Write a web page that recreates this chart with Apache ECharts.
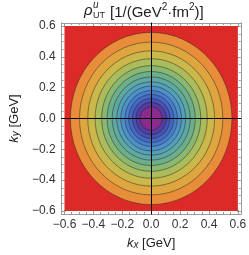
<!DOCTYPE html>
<html><head><meta charset="utf-8">
<script src="https://cdn.jsdelivr.net/npm/echarts@6/dist/echarts.min.js"></script>
<style>html,body{margin:0;padding:0;background:#fff}#c{width:249px;height:255px}</style>
</head><body><div id="c"></div>
<script>
// ---- data ----
const axisMin = -0.62, axisMax = 0.62;
const majorTicks = [-0.6, -0.4, -0.2, 0.0, 0.2, 0.4, 0.6];
const minorTicks = [-0.55,-0.5,-0.45,-0.35,-0.3,-0.25,-0.15,-0.1,-0.05,0.05,0.1,0.15,0.25,0.3,0.35,0.45,0.5,0.55];
const domainSquare = [[-0.6, -0.6, 0.6, 0.6]];          // plotted region (red background)
const contourCenter = [0, 0];
// contour radii in GeV, outermost first
const contourRadii = [0.559, 0.496, 0.439, 0.388, 0.343, 0.305, 0.270, 0.238, 0.210, 0.181, 0.156, 0.130, 0.105, 0.076];
// ---- styles ----
const outsideColor = '#DC2A29';
const bandColors = ['#E88E3B','#DFA640','#CBB84B','#ABBC5C','#88B872','#6CB08B','#5EA9A3','#54A0BA','#4C92C8','#477ECB','#4568C3','#4553B5','#553CA1','#8A2C8E'];

const chart = echarts.init(document.getElementById('c'), null, {renderer: 'canvas'});
const fmt = v => (v < 0 ? '\u2212' : '') + Math.abs(v).toFixed(1);
const frameColor = '#9a9a9a';
const base = {
  type: 'value', min: axisMin, max: axisMax, splitLine: {show: false},
  axisLine: {show: true, onZero: false, lineStyle: {color: frameColor, width: 1}},
};
function xAx(pos, ticks, len, labels, extra) {
  return Object.assign({}, base, {
    position: pos,
    axisTick: {show: true, inside: true, length: len, customValues: ticks, lineStyle: {color: frameColor}},
    axisLabel: labels ? {show: true, customValues: majorTicks, formatter: fmt, color: '#333', fontSize: 12, fontFamily: 'Liberation Sans', margin: 5} : {show: false}
  }, extra || {});
}
function yAx(pos, ticks, len, labels, extra) {
  return Object.assign({}, base, {
    position: pos,
    axisTick: {show: true, inside: true, length: len, customValues: ticks, lineStyle: {color: frameColor}},
    axisLabel: labels ? {show: true, customValues: majorTicks, formatter: fmt, color: '#333', fontSize: 12, fontFamily: 'Liberation Sans', margin: 6} : {show: false}
  }, extra || {});
}
const nameStyle = () => ({
  color: '#222', fontFamily: 'Liberation Sans',
  rich: {
    i: {fontSize: 13, fontStyle: 'italic', fontFamily: 'Liberation Sans', color: '#222', verticalAlign: 'bottom', lineHeight: 16},
    b: {fontSize: 10, fontStyle: 'italic', fontFamily: 'Liberation Sans', color: '#222', verticalAlign: 'bottom', lineHeight: 12},
    n: {fontSize: 13, fontFamily: 'Liberation Sans', color: '#222', verticalAlign: 'bottom', lineHeight: 16}
  }
});
const crossLine = {show: true, onZero: true, onZeroAxisIndex: 0, lineStyle: {color: '#000', width: 1}};

const option = {
  animation: false,
  grid: {left: 48, right: 6, top: 23, bottom: 39, containLabel: false},
  xAxis: [
    xAx('bottom', majorTicks, 4, true, {name: '{i|k}{b|x}{n| [GeV]}', nameLocation: 'middle', nameGap: 20, nameTextStyle: nameStyle()}),
    xAx('top', majorTicks, 4, false),
    xAx('bottom', minorTicks, 2, false),
    xAx('top', minorTicks, 2, false),
    Object.assign({}, base, {position: 'bottom', z: 10, axisLine: crossLine, axisTick: {show: false}, axisLabel: {show: false}})
  ],
  yAxis: [
    yAx('left', majorTicks, 4, true, {name: '{i|k}{b|y}{n| [GeV]}', nameLocation: 'middle', nameGap: 27, nameTextStyle: nameStyle()}),
    yAx('right', majorTicks, 4, false),
    yAx('left', minorTicks, 2, false),
    yAx('right', minorTicks, 2, false),
    Object.assign({}, base, {position: 'left', z: 10, axisLine: crossLine, axisTick: {show: false}, axisLabel: {show: false}})
  ],
  graphic: [
    {type: 'text', x: 84, y: 3, style: {text: 'ρ', font: 'italic 15px Liberation Sans', fill: '#222'}},
    {type: 'text', x: 93, y: 0, style: {text: 'u', font: 'italic 10px Liberation Sans', fill: '#222'}},
    {type: 'text', x: 93, y: 11, style: {text: 'UT', font: '9px Liberation Sans', fill: '#222'}},
    {type: 'text', x: 110, y: 2, style: {
      text: '{n|[1/(GeV}{s|2}{n|·fm}{s|2}{n|)]}',
      rich: {
        n: {fontSize: 15, fontFamily: 'Liberation Sans', fill: '#222', verticalAlign: 'bottom', lineHeight: 18},
        s: {fontSize: 10, fontFamily: 'Liberation Sans', fill: '#222', verticalAlign: 'top', lineHeight: 11}
      }
    }}
  ],
  series: [
    {
      type: 'custom', xAxisIndex: 0, yAxisIndex: 0, clip: true, z: 2,
      data: domainSquare,
      renderItem: (params, api) => {
        const p0 = api.coord([api.value(0), api.value(3)]);
        const p1 = api.coord([api.value(2), api.value(1)]);
        return {type: 'rect', shape: {x: p0[0], y: p0[1], width: p1[0] - p0[0], height: p1[1] - p0[1]}, style: {fill: outsideColor}};
      }
    },
    {
      type: 'custom', xAxisIndex: 0, yAxisIndex: 0, clip: true, z: 3,
      data: contourRadii.map((r, i) => [contourCenter[0], contourCenter[1], r, i]),
      renderItem: (params, api) => {
        const c = api.coord([api.value(0), api.value(1)]);
        const s = api.size([api.value(2), api.value(2)]);
        return {type: 'ellipse', shape: {cx: c[0], cy: c[1], rx: s[0], ry: s[1]},
          style: {fill: bandColors[api.value(3)], stroke: 'rgba(40,30,30,0.6)', lineWidth: 0.8}};
      }
    }
  ]
};
chart.setOption(option);
</script></body></html>
